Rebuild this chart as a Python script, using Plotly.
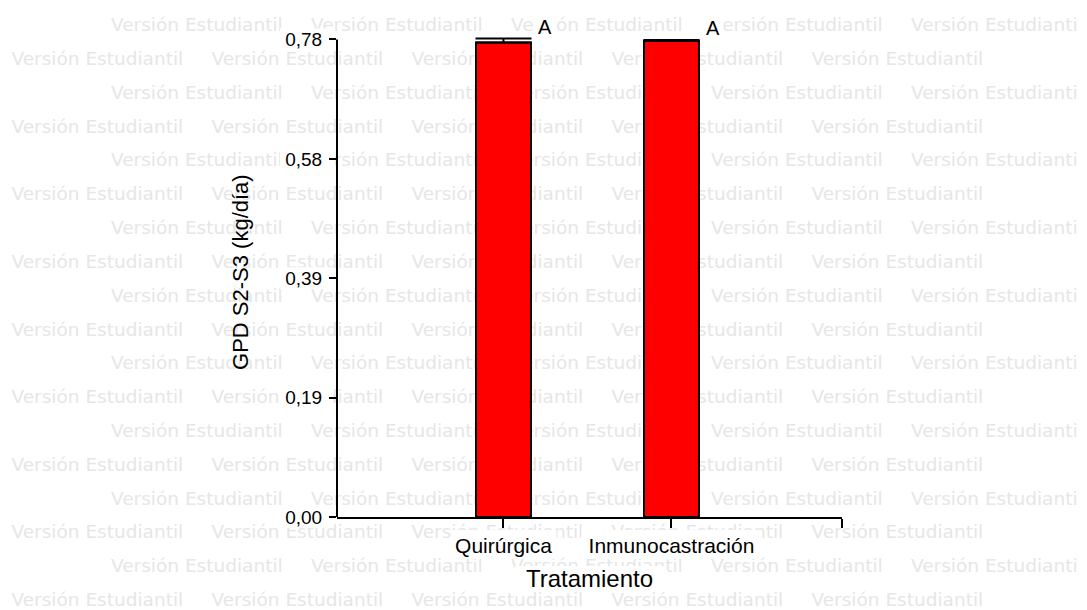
import plotly.graph_objects as go

# ---------------- data ----------------
categories = ["Quirúrgica", "Inmunocastración"]
gpd_means = [0.775, 0.778]
gpd_se = [0.0065, 0.001]
letters = ["A", "A"]
ytick_vals = [0.0, 0.195, 0.39, 0.585, 0.78]
ytick_text = ["0,00", "0,19", "0,39", "0,58", "0,78"]
x_title = "Tratamiento"
y_title = "GPD S2-S3 (kg/día)"
watermark = "Versión Estudiantil"

# ---------------- layout constants (page pixel coords) ----------------
PAGE_W, PAGE_H = 1087, 610
OFF = 8                      # default body margin of the html page
W, H = PAGE_W - OFF, PAGE_H - OFF
PX_L, PX_R = 337, 842
PY_ZERO = 517
PX_PER_Y = 612.2
X_RANGE = [-0.991, 2.015]
Y_RANGE = [0, 0.80]
Y_AXIS_TOP = 0.78


def ypix(v):
    return PY_ZERO - v * PX_PER_Y


def xpix(v):
    return PX_L + (v - X_RANGE[0]) / (X_RANGE[1] - X_RANGE[0]) * (PX_R - PX_L)


def paper_x(px):
    return (px - OFF) / W


def paper_y(py):
    return (PAGE_H - py) / H


fig = go.Figure()

# ---------------- watermark (pixel-space subplot, drawn first) ----------------
wx, wy = [], []
for r in range(18):
    yy = 26.5 + 33.82 * r
    x0 = 111 if r % 2 == 0 else 11.5
    while x0 + 170 < PAGE_W:
        wx.append(x0)
        wy.append(yy)
        x0 += 200
fig.add_trace(go.Scatter(
    x=wx, y=wy, mode="text", text=[watermark] * len(wx),
    textposition="middle right",
    textfont=dict(family="DejaVu Sans", size=18.5, color="#e6e6e6"),
    hoverinfo="skip", showlegend=False, xaxis="x", yaxis="y", cliponaxis=False,
))

# white boxes behind labels (mask watermark like the original)
boxes = []
for v in ytick_vals:
    boxes.append((280, 333, ypix(v) - 11, ypix(v) + 11))
half_w = [53, 90]
for i in range(len(categories)):
    c = xpix(i)
    boxes.append((c - half_w[i], c + half_w[i], 530, 559))
boxes.append((515, 665, 566, 592))
mx, my = [], []
for x0, x1, y0, y1 in boxes:
    mx += [x0, x1, x1, x0, x0, None]
    my += [y0, y0, y1, y1, y0, None]
fig.add_trace(go.Scatter(
    x=mx, y=my, mode="lines", fill="toself", fillcolor="white",
    line=dict(width=0, color="white"), hoverinfo="skip", showlegend=False,
    xaxis="x", yaxis="y",
))

# ---------------- main bars ----------------
xs = list(range(len(categories)))
fig.add_trace(go.Bar(
    x=xs, y=gpd_means, width=0.327,
    marker=dict(color="#ff0000", line=dict(color="black", width=2)),
    error_y=dict(type="data", array=gpd_se, arrayminus=[0] * len(gpd_se),
                 symmetric=False, color="black", thickness=2, width=28),
    hoverinfo="skip", showlegend=False, xaxis="x2", yaxis="y2",
))

for i, (m, s, L) in enumerate(zip(gpd_means, gpd_se, letters)):
    fig.add_annotation(
        x=i + 0.2, y=m + s, xref="x2", yref="y2", text=L, showarrow=False,
        xanchor="left", yanchor="bottom", bgcolor="white", borderpad=3,
        xshift=-3, yshift=-3,
        font=dict(family="Liberation Sans, Arial", size=20, color="black"),
    )

# y axis line ending at 0.78
fig.add_shape(type="line", xref="x2 domain", yref="y2", x0=0, x1=0,
              y0=0, y1=Y_AXIS_TOP, line=dict(color="black", width=2), layer="above")

fig.update_layout(
    width=W, height=H, margin=dict(l=0, r=0, t=0, b=0, autoexpand=False),
    paper_bgcolor="white", plot_bgcolor="rgba(0,0,0,0)", showlegend=False,
    xaxis=dict(domain=[0, 1], range=[OFF, PAGE_W], visible=False,
               fixedrange=True, automargin=False),
    yaxis=dict(domain=[0, 1], range=[PAGE_H, OFF], visible=False,
               fixedrange=True, automargin=False),
    xaxis2=dict(
        domain=[paper_x(PX_L), paper_x(PX_R)], anchor="y2", range=X_RANGE,
        automargin=False,
        tickmode="array", tickvals=xs + [X_RANGE[1] - 0.001],
        ticktext=categories + [""],
        ticks="outside", ticklen=9, tickwidth=2, tickcolor="black",
        ticklabelstandoff=0,
        showline=True, linecolor="black", linewidth=2,
        showgrid=False, zeroline=False,
        tickfont=dict(family="Liberation Sans, Arial", size=21, color="black"),
        title=dict(text=x_title, standoff=14,
                   font=dict(family="Liberation Sans, Arial", size=24, color="black")),
    ),
    yaxis2=dict(
        domain=[paper_y(PY_ZERO), paper_y(ypix(Y_RANGE[1]))], anchor="x2",
        automargin=False,
        range=Y_RANGE, tickmode="array", tickvals=ytick_vals, ticktext=ytick_text,
        ticks="outside", ticklen=7, tickwidth=2, tickcolor="black",
        ticklabelstandoff=3,
        showline=False, showgrid=False, zeroline=False,
        tickfont=dict(family="Liberation Sans, Arial", size=19, color="black"),
        title=dict(text=y_title, standoff=30,
                   font=dict(family="Liberation Sans, Arial", size=22, color="black")),
    ),
)

fig.write_html("out.html")
